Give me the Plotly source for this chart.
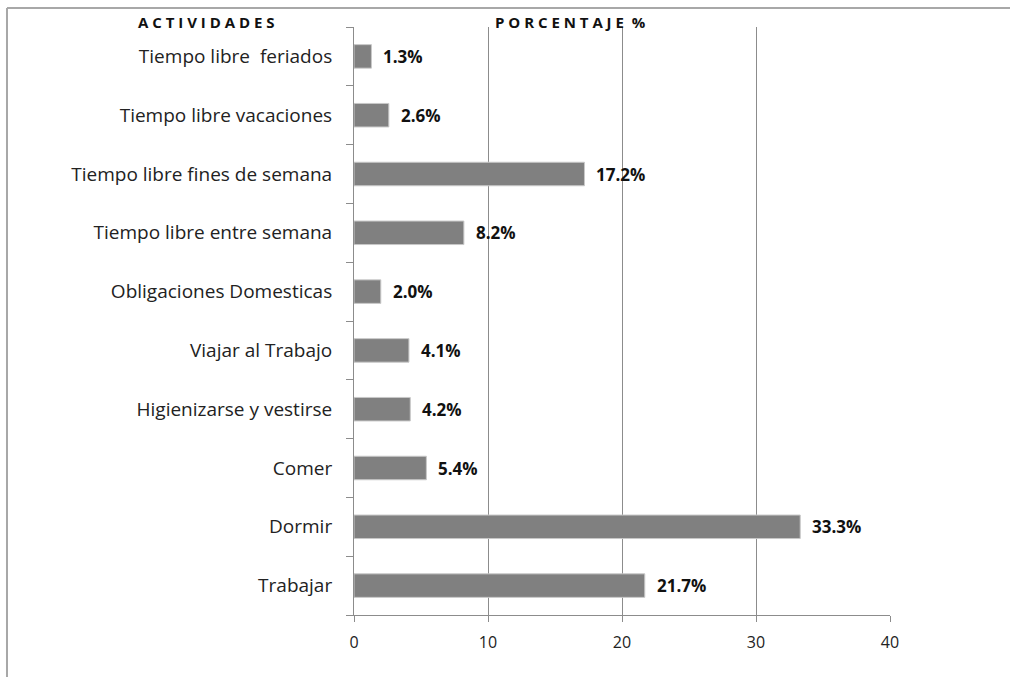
import plotly.graph_objects as go

categories = [
    "Trabajar",
    "Dormir",
    "Comer",
    "Higienizarse y vestirse",
    "Viajar al Trabajo",
    "Obligaciones Domesticas",
    "Tiempo libre entre semana",
    "Tiempo libre fines de semana",
    "Tiempo libre vacaciones",
    "Tiempo libre\u00a0\u00a0feriados",
]
values = [21.7, 33.3, 5.4, 4.2, 4.1, 2.0, 8.2, 17.2, 2.6, 1.3]
value_labels = ["21.7%", "33.3%", "5.4%", "4.2%", "4.1%", "2.0%", "8.2%", "17.2%", "2.6%", "1.3%"]
x_ticks = [0, 10, 20, 30, 40]
header_left = "ACTIVIDADES"
header_right = "PORCENTAJE %"

FONT = "'Open Sans', sans-serif"
SP = "\u00a0"


def spaced(s):
    out = SP.join(ch for ch in s if ch != " ")
    return out.replace("E" + SP + "%", "E" + SP + SP + "%")


fig = go.Figure()
fig.add_trace(go.Bar(
    y=categories,
    x=values,
    orientation="h",
    marker=dict(color="#808080", line=dict(color="#c8c8c8", width=1)),
    hoverinfo="skip",
))

for cat, v, lab in zip(categories, values, value_labels):
    fig.add_annotation(
        x=v, y=cat, text=f"<b>{lab}</b>",
        xanchor="left", yanchor="middle", xshift=10, showarrow=False,
        font=dict(family=FONT, size=17, color="#111111"),
    )

fig.add_annotation(
    x=-0.276, y=1.0085, xref="paper", yref="paper",
    text="<b>" + spaced(header_left) + "</b>", showarrow=False,
    xanchor="center", yanchor="middle",
    font=dict(family=FONT, size=15, color="#111111"),
)
fig.add_annotation(
    x=0.403, y=1.0085, xref="paper", yref="paper",
    text="<b>" + spaced(header_right) + "</b>", showarrow=False,
    xanchor="center", yanchor="middle",
    font=dict(family=FONT, size=15, color="#111111"),
)

# outer frame (top and left edges visible in the reference)
fig.add_shape(type="line", xref="paper", yref="paper",
              x0=-0.6474, x1=1.3, y0=1.0323, y1=1.0323,
              line=dict(color="#a8a8a8", width=2))
fig.add_shape(type="line", xref="paper", yref="paper",
              x0=-0.6474, x1=-0.6474, y0=-0.2, y1=1.0323,
              line=dict(color="#a8a8a8", width=2))

fig.update_layout(
    width=1010, height=677,
    margin=dict(l=354, r=120, t=27, b=62),
    paper_bgcolor="white", plot_bgcolor="white",
    bargap=0.6,
    showlegend=False,
    font=dict(family=FONT, color="#222222"),
)
fig.update_xaxes(
    range=[0, 40], tickvals=x_ticks, ticktext=[str(t) for t in x_ticks],
    showgrid=True, gridcolor="#8c8c8c", gridwidth=1,
    showline=True, linecolor="#8c8c8c", linewidth=1,
    ticks="outside", ticklen=6, tickcolor="#8c8c8c",
    tickfont=dict(family=FONT, size=16, color="#222222"),
    zeroline=False, ticklabelstandoff=7,
)
fig.update_yaxes(
    showgrid=False, showline=True, linecolor="#8c8c8c", linewidth=1,
    ticks="outside", ticklen=7, tickcolor="#8c8c8c", tickson="boundaries",
    tickfont=dict(family=FONT, size=19, color="#222222"),
    ticklabelstandoff=17,
)

fig.write_html("out.html", config={"displayModeBar": False},
               post_script="document.body.style.margin='0';")
